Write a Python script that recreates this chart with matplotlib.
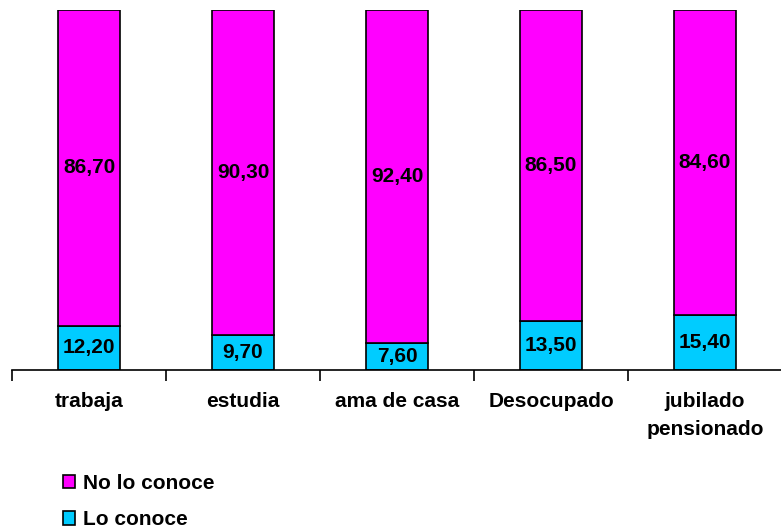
# -*- coding: UTF-8 -*-

import matplotlib
matplotlib.use('Agg')
import matplotlib.pyplot as plt
from matplotlib.patches import Patch

categories = ['trabaja', 'estudia', 'ama de casa', 'Desocupado', 'jubilado\npensionado']
lo_conoce = [12.20, 9.70, 7.60, 13.50, 15.40]
no_lo_conoce = [86.70, 90.30, 92.40, 86.50, 84.60]

plt.rcParams['font.family'] = ['Liberation Sans', 'DejaVu Sans']

# 100% stacked: each column scaled to its total
totals = [a + b for a, b in zip(lo_conoce, no_lo_conoce)]
lo_pct = [a / t * 100 for a, t in zip(lo_conoce, totals)]
no_pct = [b / t * 100 for b, t in zip(no_lo_conoce, totals)]

fig = plt.figure(figsize=(7.81, 5.29), dpi=100)
ax = fig.add_axes([12 / 781, 159 / 529, 770 / 781, 360 / 529])

x = list(range(len(categories)))
ax.bar(x, lo_pct, width=0.4, color='#00ccff', edgecolor='black', linewidth=1.2)
ax.bar(x, no_pct, width=0.4, bottom=lo_pct, color='#ff00ff',
       edgecolor='black', linewidth=1.2)

for i in x:
    ax.text(i, lo_pct[i] / 2, '{:.2f}'.format(lo_conoce[i]).replace('.', ','),
            ha='center', va='center', fontsize=15, fontweight='bold')
    ax.text(i, lo_pct[i] + no_pct[i] / 2, '{:.2f}'.format(no_lo_conoce[i]).replace('.', ','),
            ha='center', va='center', fontsize=15, fontweight='bold')

ax.set_xlim(-0.5, len(categories) - 0.5)
ax.set_ylim(0, 100)
for s in ['top', 'right', 'left']:
    ax.spines[s].set_visible(False)
ax.spines['bottom'].set_linewidth(1.2)
ax.set_yticks([])

ax.set_xticks(x)
ax.set_xticklabels(categories, fontsize=15, fontweight='bold', va='top', linespacing=1.6)
ax.tick_params(axis='x', which='major', length=0, pad=16)
ax.set_xticks([i - 0.5 for i in range(len(categories) + 1)], minor=True)
ax.tick_params(axis='x', which='minor', length=8, width=1.2, direction='out')

handles = [Patch(facecolor='#ff00ff', edgecolor='black', linewidth=1.2, label='No lo conoce'),
           Patch(facecolor='#00ccff', edgecolor='black', linewidth=1.2, label='Lo conoce')]
fig.legend(handles=handles, loc='upper left', bbox_to_anchor=(44 / 781, 1 - 455 / 529),
           frameon=False, prop={'size': 15, 'weight': 'bold'},
           handlelength=0.6, handleheight=0.6, handletextpad=0.35, labelspacing=0.85)

fig.savefig('out.png', dpi=100)
